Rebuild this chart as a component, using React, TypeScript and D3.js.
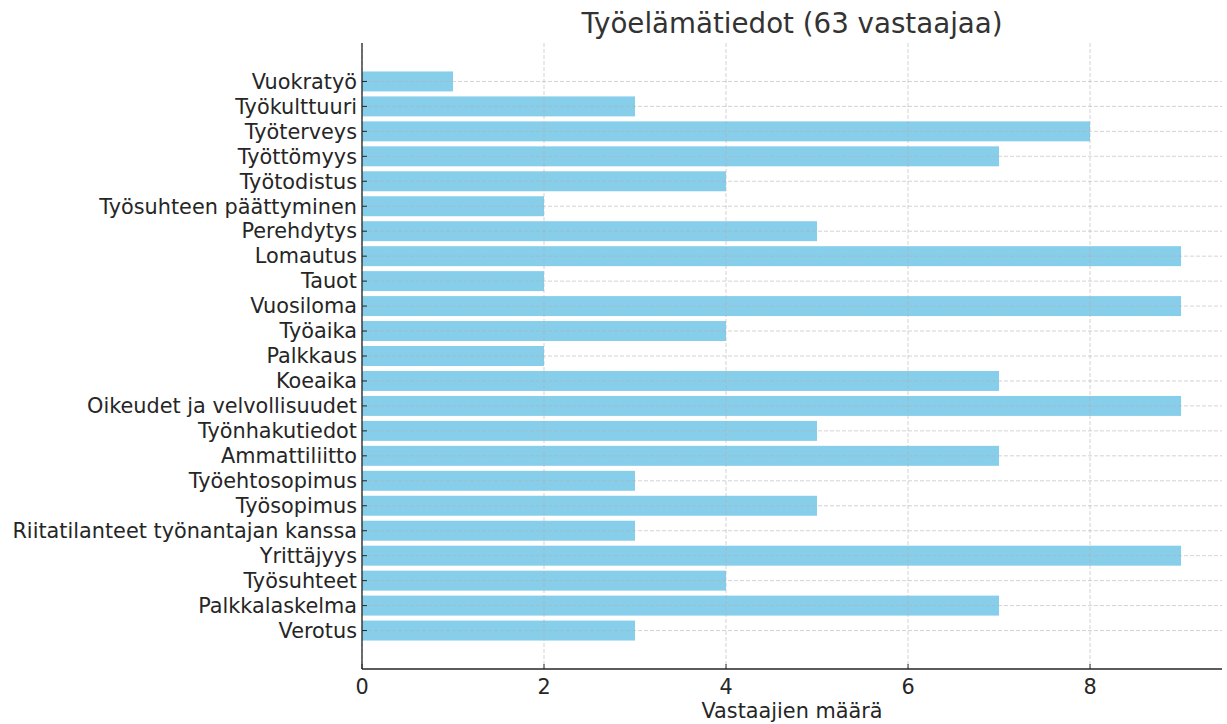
import React, { useEffect, useRef } from "react";
import * as d3 from "d3";

const categories = [
  "Vuokratyö",
  "Työkulttuuri",
  "Työterveys",
  "Työttömyys",
  "Työtodistus",
  "Työsuhteen päättyminen",
  "Perehdytys",
  "Lomautus",
  "Tauot",
  "Vuosiloma",
  "Työaika",
  "Palkkaus",
  "Koeaika",
  "Oikeudet ja velvollisuudet",
  "Työnhakutiedot",
  "Ammattiliitto",
  "Työehtosopimus",
  "Työsopimus",
  "Riitatilanteet työnantajan kanssa",
  "Yrittäjyys",
  "Työsuhteet",
  "Palkkalaskelma",
  "Verotus",
];
const counts = [1, 3, 8, 7, 4, 2, 5, 9, 2, 9, 4, 2, 7, 9, 5, 7, 3, 5, 3, 9, 4, 7, 3];
const xTicks = [0, 2, 4, 6, 8];

const W = 1227;
const H = 724;

const App = () => {
  const ref = useRef<SVGSVGElement>(null);

  useEffect(() => {
    const svg = d3.select(ref.current);
    svg.selectAll("*").remove();

    const left = 362;
    const right = 1222;
    const top = 43;
    const bottom = 669;
    const font = "'DejaVu Sans', sans-serif";
    const textColor = "#262626";
    const labelSize = "20.8px";

    const n = categories.length;
    const x = d3.scaleLinear().domain([0, d3.max(counts)! * 1.05]).range([left, right]);
    const pad = 0.05 * (n - 1 + 0.8);
    const y = d3
      .scaleLinear()
      .domain([-0.4 - pad, n - 1 + 0.4 + pad])
      .range([top, bottom]);

    // bars
    svg
      .append("g")
      .selectAll("rect")
      .data(counts)
      .join("rect")
      .attr("x", x(0))
      .attr("y", (d, i) => y(i - 0.4))
      .attr("width", (d) => x(d) - x(0))
      .attr("height", (d, i) => y(i + 0.4) - y(i - 0.4))
      .attr("fill", "#87CEEB");

    // grid
    const grid = svg.append("g").attr("stroke", "#b0b0b0").attr("stroke-opacity", 0.7)
      .attr("stroke-dasharray", "4,2").attr("stroke-width", 0.8);
    grid
      .selectAll("line.gx")
      .data(xTicks)
      .join("line")
      .attr("class", "gx")
      .attr("x1", (d) => x(d))
      .attr("x2", (d) => x(d))
      .attr("y1", top)
      .attr("y2", bottom);
    grid
      .selectAll("line.gy")
      .data(categories)
      .join("line")
      .attr("class", "gy")
      .attr("x1", left)
      .attr("x2", right)
      .attr("y1", (d, i) => y(i))
      .attr("y2", (d, i) => y(i));

    // spines
    svg.append("line").attr("x1", left).attr("x2", left).attr("y1", top).attr("y2", bottom)
      .attr("stroke", textColor).attr("stroke-width", 1.3);
    svg.append("line").attr("x1", left).attr("x2", right).attr("y1", bottom).attr("y2", bottom)
      .attr("stroke", textColor).attr("stroke-width", 1.3);

    // y ticks (inward) and labels
    const yt = svg.append("g");
    yt.selectAll("line")
      .data(categories)
      .join("line")
      .attr("x1", left)
      .attr("x2", left + 5)
      .attr("y1", (d, i) => y(i))
      .attr("y2", (d, i) => y(i))
      .attr("stroke", textColor)
      .attr("stroke-width", 1);
    yt.selectAll("text")
      .data(categories)
      .join("text")
      .text((d) => d)
      .attr("x", left - 5)
      .attr("y", (d, i) => y(i))
      .attr("dy", "0.35em")
      .attr("text-anchor", "end")
      .attr("font-family", font)
      .attr("font-size", labelSize)
      .attr("fill", textColor);

    // x ticks
    const xt = svg.append("g");
    xt.selectAll("line")
      .data(xTicks)
      .join("line")
      .attr("x1", (d) => x(d))
      .attr("x2", (d) => x(d))
      .attr("y1", bottom)
      .attr("y2", bottom - 5)
      .attr("stroke", textColor)
      .attr("stroke-width", 1);
    xt.selectAll("text")
      .data(xTicks)
      .join("text")
      .text((d) => d)
      .attr("x", (d) => x(d))
      .attr("y", bottom + 25)
      .attr("text-anchor", "middle")
      .attr("font-family", font)
      .attr("font-size", labelSize)
      .attr("fill", textColor);

    svg
      .append("text")
      .text("Vastaajien määrä")
      .attr("x", (left + right) / 2)
      .attr("y", 718)
      .attr("text-anchor", "middle")
      .attr("font-family", font)
      .attr("font-size", labelSize)
      .attr("fill", textColor);

    svg
      .append("text")
      .text("Työelämätiedot (63 vastaajaa)")
      .attr("x", (left + right) / 2)
      .attr("y", 33)
      .attr("text-anchor", "middle")
      .attr("font-family", font)
      .attr("font-size", "27.7px")
      .attr("fill", "#333");
  }, []);

  return (
    <svg
      ref={ref}
      width={W}
      height={H}
      style={{ position: "absolute", left: 0, top: 0, background: "#fff" }}
    ></svg>
  );
};

export default App;
